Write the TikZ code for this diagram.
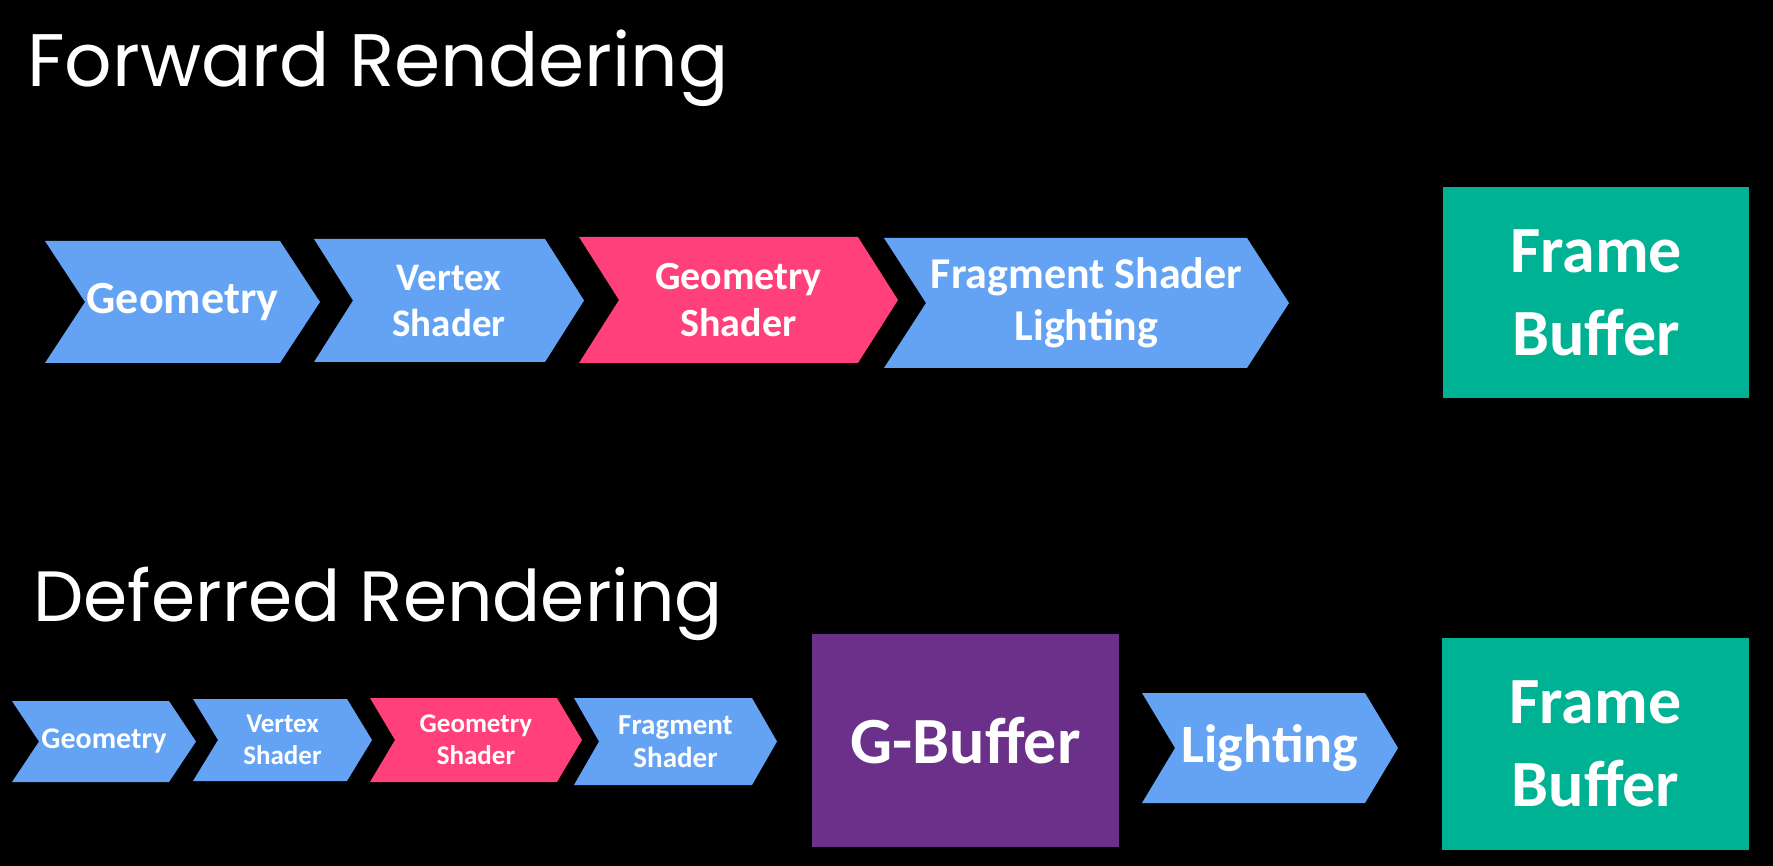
\documentclass[tikz,border=0pt]{standalone}
\usepackage{fontspec}
\newfontfamily\titlefont{Poppins}
\newfontfamily\boxfont{Carlito}[BoldFont={Carlito Bold}]
\definecolor{stageblue}{HTML}{64A3F3}
\definecolor{stagepink}{HTML}{FF407A}
\definecolor{buffergreen}{HTML}{00B294}
\definecolor{bufferpurple}{HTML}{6B308A}

\tikzset{
  heading/.style={anchor=base west, inner sep=0pt, text=white},
  boxtext/.style={inner sep=0pt, text=white, align=center},
}

% \chevron{name}{x left}{x tip}{y top}{y bottom}{depth}{colour}{font size/skip}{text}
\newcommand\chevron[9]{%
  \fill[#7] (#2,#4) -- ({#3-#6},#4) -- (#3,{(#4+#5)/2}) -- ({#3-#6},#5)
            -- (#2,#5) -- ({#2+#6},{(#4+#5)/2}) -- cycle;
  \node[boxtext, font=\boxfont\bfseries\fontsize#8\selectfont] (#1) at ({(#2+#3)/2},{(#4+#5)/2}) {#9};
}

\begin{document}
\begin{tikzpicture}[x=0.5pt,y=-0.5pt]
  \fill[black] (0,0) rectangle (1773,866);
  \useasboundingbox (0,0) rectangle (1773,866);

  % forward pipeline
  \node[heading, font=\titlefont\fontsize{37.2}{44}\selectfont] (fwd) at (27,87) {Forward Rendering};
  \chevron{geo}{45}{320}{241}{363}{40}{stageblue}{{23}{27}}{Geometry}
  \chevron{vert}{314}{584}{239}{362}{39}{stageblue}{{19.5}{23}}{Vertex\\Shader}
  \chevron{gshd}{579}{898}{237}{363}{40}{stagepink}{{20}{23.5}}{Geometry\\Shader}
  \chevron{frag}{884}{1289}{238}{368}{42}{stageblue}{{22}{26}}{Fragment Shader\\Lighting}
  \fill[buffergreen] (1443,187) rectangle (1749,398);
  \node[boxtext, font=\boxfont\bfseries\fontsize{33}{41.5}\selectfont] (fb) at (1596,292.5) {Frame\\Buffer};

  % deferred pipeline
  \node[heading, font=\titlefont\fontsize{35.6}{42}\selectfont] (dfr) at (33,621) {Deferred Rendering};
  \chevron{geoD}{12}{196}{701}{782}{27}{stageblue}{{15}{17}}{Geometry}
  \chevron{vertD}{193}{372}{699}{781}{25}{stageblue}{{13.5}{16}}{Vertex\\Shader}
  \chevron{gshdD}{370}{582}{698}{782}{25}{stagepink}{{13.5}{16}}{Geometry\\Shader}
  \chevron{fragD}{574}{777}{698}{785}{25}{stageblue}{{14.5}{16.5}}{Fragment\\Shader}
  \fill[bufferpurple] (812,634) rectangle (1119,847);
  \node[boxtext, font=\boxfont\bfseries\fontsize{33}{40}\selectfont] (gbuf) at (965.5,740.5) {G-Buffer};
  \chevron{light}{1142}{1398}{693}{803}{33}{stageblue}{{27}{32}}{Lighting}
  \fill[buffergreen] (1442,638) rectangle (1749,850);
  \node[boxtext, font=\boxfont\bfseries\fontsize{33}{41.5}\selectfont] (fbD) at (1595.5,744) {Frame\\Buffer};
\end{tikzpicture}
\end{document}
